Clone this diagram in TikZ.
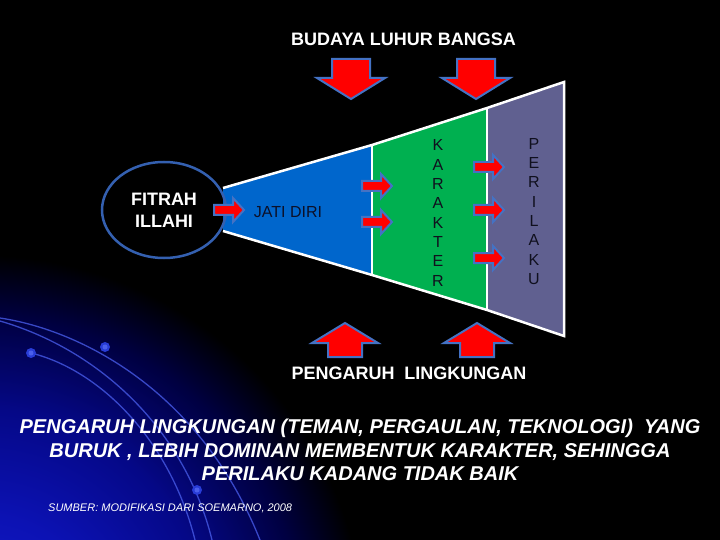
\documentclass[tikz,border=0pt]{standalone}
\usepackage{fontspec}
\setmainfont{Liberation Sans}
\usetikzlibrary{shapes.geometric}
\definecolor{bluesec}{RGB}{0,102,204}
\definecolor{greensec}{RGB}{0,176,80}
\definecolor{purplesec}{RGB}{96,96,144}
\definecolor{outl}{RGB}{68,114,196}
\definecolor{ellcol}{RGB}{52,96,176}
\definecolor{navy}{RGB}{12,16,40}
\definecolor{lettercol}{RGB}{16,16,30}
\definecolor{glowA}{RGB}{22,30,210}
\definecolor{glowB}{RGB}{12,18,180}
\definecolor{glowC}{RGB}{5,8,135}
\definecolor{glowD}{RGB}{0,0,65}
\definecolor{swooshcol}{RGB}{70,90,230}
\definecolor{dotcol}{RGB}{40,60,215}
\definecolor{dotlight}{RGB}{110,130,255}
\pgfdeclareradialshading{glow}{\pgfpoint{0bp}{0bp}}{color(0bp)=(glowA); color(8bp)=(glowB); color(15bp)=(glowC); color(21bp)=(glowD); color(25bp)=(black); color(50bp)=(black)}
\begin{document}
\begin{tikzpicture}[x=1pt,y=-1pt,
  redarrow/.style={fill=red, draw=outl, line width=2pt, line join=miter},
  rim/.style={draw=white, line width=2.5pt, line join=miter},
  swoosh/.style={draw=swooshcol, line width=1.3pt, opacity=0.8},
  smallarr/.pic={\path[redarrow] (-15,-5) -- (4,-5) -- (4,-12) -- (15,0) -- (4,12) -- (4,5) -- (-15,5) -- cycle;},
  bigdown/.pic={\path[redarrow] (-19,0) -- (19,0) -- (19,19) -- (34,19) -- (0,40) -- (-34,19) -- (-19,19) -- cycle;},
  bigup/.pic={\path[redarrow] (0,0) -- (33,20) -- (17,20) -- (17,34) -- (-17,34) -- (-17,20) -- (-33,20) -- cycle;},
  txt/.style={inner sep=0pt}]
\useasboundingbox (0,0) rectangle (720,540);
\fill[black] (0,0) rectangle (720,540);
\begin{scope}
  \clip (0,0) rectangle (720,540);
  \shade[shading=glow] (-20,640) circle (385pt);
  \draw[swoosh] (0,318) .. controls (80,330) and (200,390) .. (260,540);
  \draw[swoosh] (0,321) .. controls (100,350) and (185,430) .. (212,540);
  \draw[swoosh] (31,353) .. controls (100,370) and (170,440) .. (195,540);
  \foreach \p in {(105,347),(31,353),(197,490)}{
    \fill[dotcol] \p circle (5pt);
    \fill[dotlight,opacity=0.5] \p circle (2.5pt);
  }
\end{scope}
% funnel sections
\fill[bluesec] (223,188) -- (372,145) -- (372,275) -- (223,231) -- cycle;
\fill[greensec] (372,145) -- (487,108) -- (487,310) -- (372,275) -- cycle;
\fill[purplesec] (487,108) -- (564,82) -- (564,336) -- (487,310) -- cycle;
\draw[rim] (223,188) -- (372,145) -- (487,108) -- (564,82) -- (564,336) -- (487,310) -- (372,275) -- (223,231);
\draw[rim] (372,145) -- (372,275);
\draw[rim] (487,108) -- (487,310);
% ellipse
\node[ellipse, draw=ellcol, line width=2.5pt, minimum width=124pt, minimum height=96pt, inner sep=0pt,
      align=center, text=white, font=\bfseries\fontsize{18}{22}\selectfont] (fitrah) at (164,210) {FITRAH\\ILLAHI};
% arrows
\pic at (229,210) {smallarr};
\pic at (377,186) {smallarr};
\pic at (377,222) {smallarr};
\pic at (489,167) {smallarr};
\pic at (489,210) {smallarr};
\pic at (489,258) {smallarr};
\pic at (351,59) {bigdown};
\pic at (476,59) {bigdown};
\pic at (345,323) {bigup};
\pic at (477,323) {bigup};
% texts
\node[txt, text=white, font=\bfseries\fontsize{18}{21.6}\selectfont] (budaya) at (403.5,39) {BUDAYA LUHUR BANGSA};
\node[txt, text=navy, font=\fontsize{16}{19}\selectfont] (jati) at (288,212) {JATI DIRI};
\node[txt, text=lettercol, align=center, font=\fontsize{16}{19.36}\selectfont] (karakter) at (438,213) {K\\A\\R\\A\\K\\T\\E\\R};
\node[txt, text=lettercol, align=center, font=\fontsize{16}{19.3}\selectfont] (perilaku) at (534,211.5) {P\\E\\R\\I\\L\\A\\K\\U};
\node[txt, text=white, font=\bfseries\fontsize{18}{21.6}\selectfont] (pengaruh) at (409,373) {PENGARUH~~LINGKUNGAN};
\node[txt, text=white, align=center, font=\bfseries\itshape\fontsize{20}{23.5}\selectfont] (summary) at (360,450) {PENGARUH LINGKUNGAN (TEMAN, PERGAULAN, TEKNOLOGI)~~YANG\\BURUK , LEBIH DOMINAN MEMBENTUK KARAKTER, SEHINGGA\\PERILAKU KADANG TIDAK BAIK};
\node[txt, text=white, anchor=west, font=\itshape\fontsize{11}{13}\selectfont] (sumber) at (48,508) {SUMBER: MODIFIKASI DARI SOEMARNO, 2008};
\end{tikzpicture}
\end{document}
